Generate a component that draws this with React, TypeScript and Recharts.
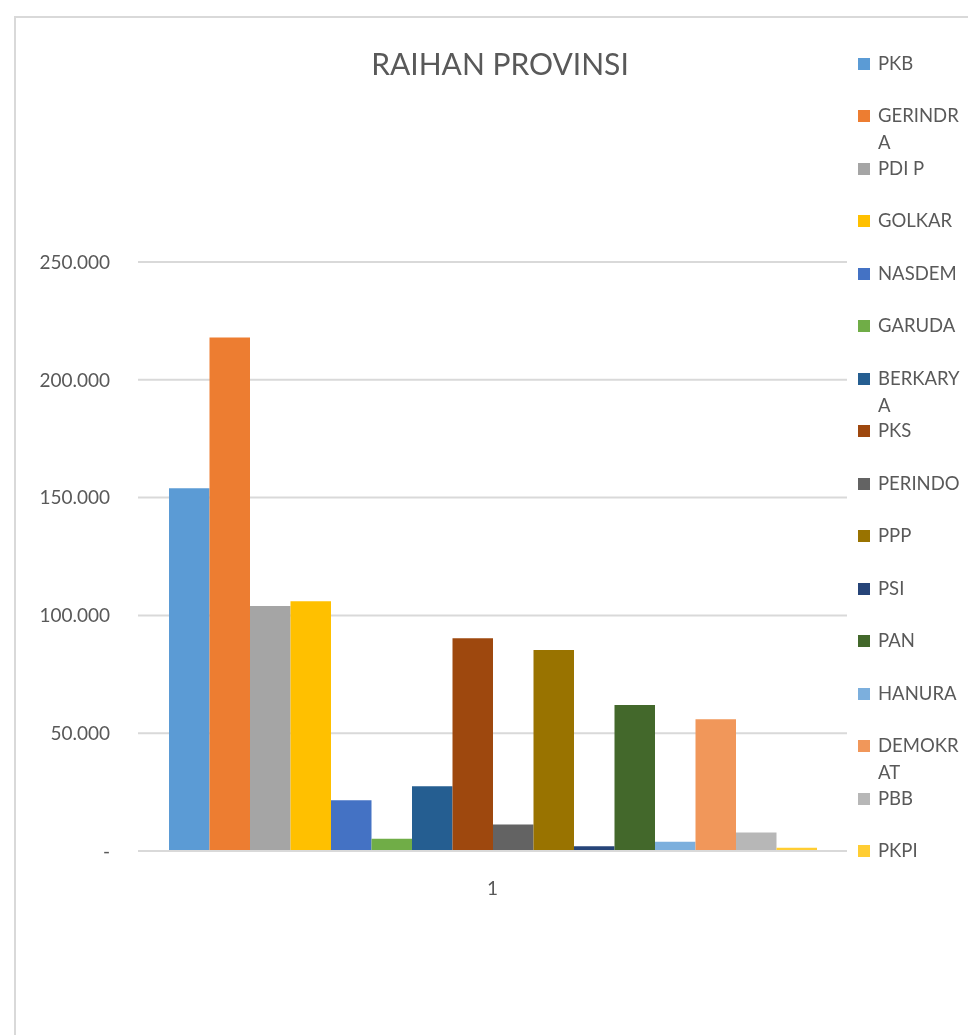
import React from 'react';
import { BarChart, Bar, XAxis, YAxis, CartesianGrid } from 'recharts';

const categories = ['1'];

const parties = [
  'PKB', 'GERINDRA', 'PDI P', 'GOLKAR', 'NASDEM', 'GARUDA', 'BERKARYA', 'PKS',
  'PERINDO', 'PPP', 'PSI', 'PAN', 'HANURA', 'DEMOKRAT', 'PBB', 'PKPI',
];

const votes = [
  154000, 218000, 104000, 106000, 21500, 5200, 27500, 90300,
  11300, 85300, 2000, 62000, 3900, 55900, 7900, 1400,
];

const yTicks = [0, 50000, 100000, 150000, 200000, 250000];

const partyColors = [
  '#5B9BD5', '#ED7D31', '#A5A5A5', '#FFC000', '#4472C4', '#70AD47', '#255E91', '#9E480E',
  '#636363', '#997300', '#264478', '#43682B', '#7CAFDD', '#F1975A', '#B7B7B7', '#FFCD33',
];

const data = categories.map((category) => {
  const row: Record<string, string | number> = { category };
  parties.forEach((p, i) => {
    row[p] = votes[i];
  });
  return row;
});

const font = 'Lato, "Open Sans", sans-serif';
const textColor = '#595959';

const formatTick = (v: number) =>
  v === 0 ? '-' : String(v).replace(/\B(?=(\d{3})+(?!\d))/g, '.');

export default function App() {
  return (
    <div style={{ position: 'relative', width: 960, height: 1019, fontFamily: font, overflow: 'hidden' }}>
      {/* chart frame, runs off the right and bottom of the window */}
      <div
        style={{
          position: 'fixed',
          left: 14,
          top: 16,
          right: 0,
          bottom: 0,
          borderLeft: '2px solid #d9d9d9',
          borderTop: '2px solid #d9d9d9',
        }}
      />
      <div
        style={{
          position: 'absolute',
          left: 292,
          width: 400,
          top: 35,
          textAlign: 'center',
          fontSize: 30,
          lineHeight: '40px',
          color: textColor,
        }}
      >
        RAIHAN PROVINSI
      </div>
      <div style={{ position: 'absolute', left: 0, top: 0 }}>
        <BarChart
          width={960}
          height={1019}
          data={data}
          margin={{ top: 254, right: 121, bottom: 126, left: 0 }}
          barSize={40.5}
          barGap={0}
        >
          <CartesianGrid vertical={false} stroke="#d9d9d9" strokeWidth={2} />
          <XAxis
            dataKey="category"
            axisLine={{ stroke: '#d9d9d9', strokeWidth: 2 }}
            tickLine={false}
            tickSize={0}
            tickMargin={31}
            height={50}
            tick={{ fill: textColor, fontSize: 19, fontFamily: font }}
          />
          <YAxis
            width={130}
            domain={[0, 250000]}
            ticks={yTicks}
            tickFormatter={formatTick}
            axisLine={false}
            tickLine={false}
            tickSize={0}
            tickMargin={28}
            tick={{ fill: textColor, fontSize: 19, fontFamily: font }}
          />
          {parties.map((p, i) => (
            <Bar key={p} dataKey={p} fill={partyColors[i]} isAnimationActive={false} />
          ))}
        </BarChart>
      </div>
      <div style={{ position: 'absolute', left: 850, top: 41.5 }}>
        {parties.map((p, i) => (
          <div key={p} style={{ position: 'relative', height: 52.53 }}>
            <div
              style={{
                position: 'absolute',
                left: 0,
                top: 8,
                width: 12,
                height: 12,
                background: partyColors[i],
              }}
            />
            <div
              style={{
                position: 'absolute',
                left: 20,
                top: 0,
                width: 86,
                fontSize: 18.5,
                lineHeight: '27px',
                color: textColor,
                wordBreak: 'break-all',
              }}
            >
              {p}
            </div>
          </div>
        ))}
      </div>
    </div>
  );
}
